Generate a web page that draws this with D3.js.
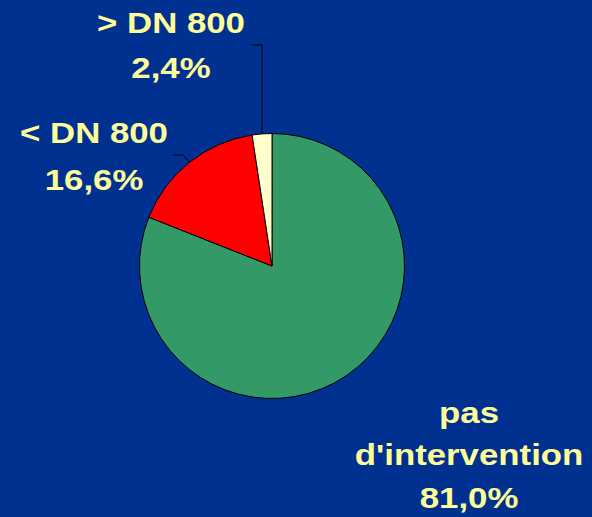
<!DOCTYPE html>
<html>
<head>
<meta charset="utf-8">
<script src="https://cdn.jsdelivr.net/npm/d3@7"></script>
<style>
  html, body { margin: 0; padding: 0; background: #003090; }
  svg { display: block; }
  .lbl { font-family: "Liberation Sans", Arial, sans-serif; font-weight: bold; fill: #FFFF99; }
</style>
</head>
<body>
<svg id="chart" width="592" height="517"></svg>
<script>
// donnees
const categories = ["pas d'intervention", "< DN 800", "> DN 800"];
const values = [81.0, 16.6, 2.4];
const colors = ["#339966", "#FF0000", "#FFFFCC"];
const labelLines = [
  ["pas", "d'intervention", "81,0%"],
  ["< DN 800", "16,6%"],
  ["> DN 800", "2,4%"]
];

const W = 592, H = 517;
const cx = 272, cy = 266, R = 132.5;

const svg = d3.select("#chart");
svg.append("rect").attr("width", W).attr("height", H).attr("fill", "#003090");

const pie = d3.pie().sort(null).value(d => d)(values);
const arc = d3.arc().innerRadius(0).outerRadius(R);

const g = svg.append("g").attr("transform", `translate(${cx},${cy})`);
g.selectAll("path.slice")
  .data(pie)
  .join("path")
  .attr("class", "slice")
  .attr("d", arc)
  .attr("fill", (d, i) => colors[i])
  .attr("stroke", "#000")
  .attr("stroke-width", 1);

// leader lines (from slice edge to label)
function edgePoint(angle, r) {
  return [cx + r * Math.sin(angle), cy - r * Math.cos(angle)];
}
const redMid = (pie[1].startAngle + pie[1].endAngle) / 2;
const creamMid = (pie[2].startAngle + pie[2].endAngle) / 2;

const pRed = edgePoint(redMid, R);
const pCream = edgePoint(creamMid, R);

svg.append("polyline")
  .attr("points", [[173, 155], [183, 155], pRed].map(p => p.join(",")).join(" "))
  .attr("fill", "none").attr("stroke", "#000").attr("stroke-width", 1);

svg.append("polyline")
  .attr("points", [[252, 45], [pCream[0], 45], pCream].map(p => p.join(",")).join(" "))
  .attr("fill", "none").attr("stroke", "#000").attr("stroke-width", 1);

// labels
const labelPos = [
  { x: 469, y: [423, 465, 508] },
  { x: 94, y: [143, 190] },
  { x: 171, y: [33, 78] }
];
labelLines.forEach((lines, i) => {
  lines.forEach((t, j) => {
    svg.append("text")
      .attr("class", "lbl")
      .attr("transform", `translate(${labelPos[i].x},${labelPos[i].y[j]}) scale(1.2,1)`)
      .attr("text-anchor", "middle")
      .attr("font-size", 29)
      .text(t);
  });
});
</script>
</body>
</html>
